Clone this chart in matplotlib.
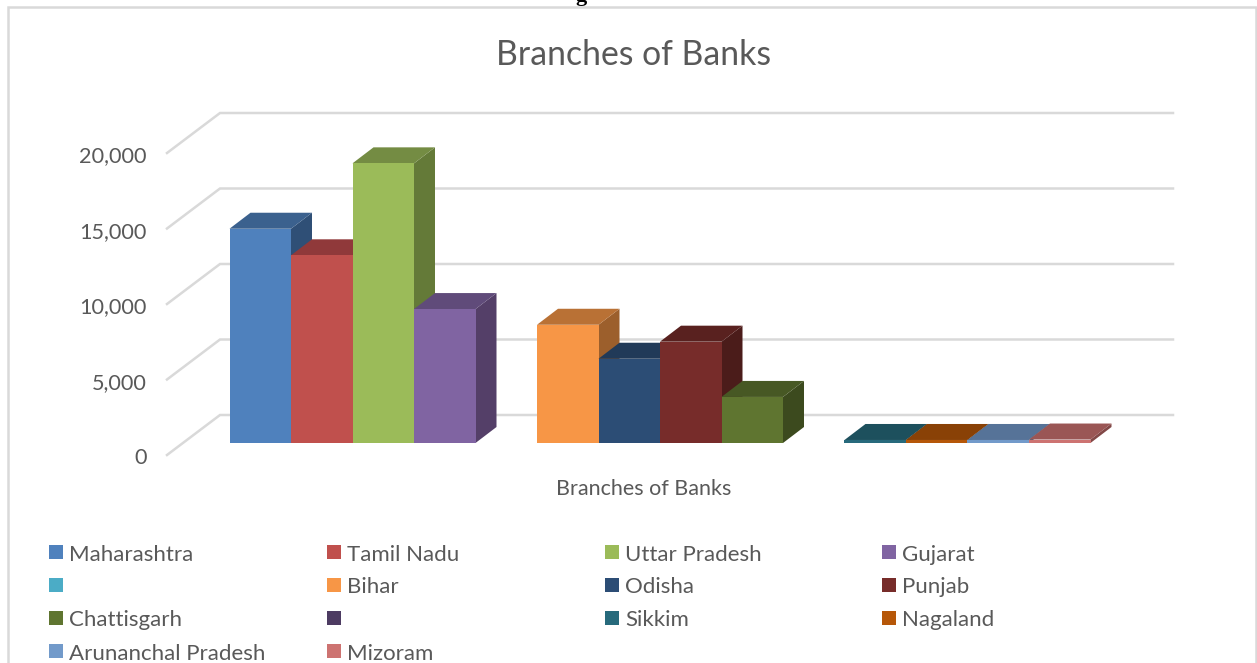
import matplotlib
matplotlib.use('Agg')
import matplotlib.pyplot as plt
from matplotlib.patches import Polygon, Rectangle

plt.rcParams['font.family'] = ['Lato', 'DejaVu Sans']

# branches per state, two blank series act as spacers between the groups
states = ['Maharashtra', 'Tamil Nadu', 'Uttar Pradesh', 'Gujarat', '', 'Bihar', 'Odisha',
          'Punjab', 'Chattisgarh', '', 'Sikkim', 'Nagaland', 'Arunanchal Pradesh', 'Mizoram']
branches = [14190, 12430, 18520, 8870, 0, 7830, 5580, 6710, 3050, 0, 200, 200, 200, 230]
front_colors = ['#4F81BD', '#C0504D', '#9BBB59', '#8064A2', '#4BACC6', '#F79646', '#2C4D75',
                '#772C2A', '#5F7530', '#4D3B62', '#276A7C', '#B65708', '#729ACA', '#CD7371']
top_colors = ['#3B618E', '#90393A', '#748C43', '#604B7A', '#387F95', '#B97135', '#213A58',
              '#59211F', '#475824', '#3A2C4A', '#1D505D', '#894106', '#567398', '#9A5655']
side_colors = ['#2F4F76', '#7A3030', '#647A38', '#543F68', '#2F6A7C', '#9C5F2C', '#1B3049',
               '#4B1C1A', '#3C4A1E', '#31253E', '#18424E', '#733605', '#486180', '#824847']
y_ticks = [0, 5000, 10000, 15000, 20000]

W, H = 1257, 663
px_per_value = 75.5 / 5000
slot_px = 61.5

fig = plt.figure(figsize=(W / 100, H / 100), dpi=100)
fig.patch.set_facecolor('white')

# axes box is the front plane of the 3d chart
left, right, bottom, top = 167, 1173, 455, 113
ax = fig.add_axes([left / W, 1 - bottom / H, (right - left) / W, (bottom - top) / H])
ax.set_xlim((left - 229.5) / slot_px, (right - 229.5) / slot_px)
ax.set_ylim(0, (bottom - top) / px_per_value)
ax.axis('off')

floor_dx = 53 / slot_px
floor_dy = 40 / px_per_value
bar_dx = 21 / slot_px
bar_dy = 16 / px_per_value
bar_base = 12 / px_per_value
x_min, x_max = ax.get_xlim()

# gridlines: slanted part on the side wall, flat part along the back wall
for t in y_ticks:
    ax.plot([x_min, x_min + floor_dx, x_max], [t, t + floor_dy, t + floor_dy],
            color='#D9D9D9', lw=1.8, clip_on=False, zorder=1, solid_joinstyle='miter')
    ax.annotate(f'{t:,}', xy=(x_min, t), xytext=(-20, -9.5), textcoords='offset pixels',
                ha='right', va='baseline', fontsize=15.6, color='#595959', annotation_clip=False)

# top and side faces are added as polygons, the front face is a normal bar
for i, (v, f, tc, sc) in enumerate(zip(branches, front_colors, top_colors, side_colors)):
    if v == 0:
        continue
    y0 = bar_base
    y1 = bar_base + v
    z = 5 + i
    ax.add_patch(Polygon([(i + 1, y0), (i + 1 + bar_dx, y0 + bar_dy),
                          (i + 1 + bar_dx, y1 + bar_dy), (i + 1, y1)],
                         fc=sc, ec='none', zorder=z))
    ax.add_patch(Polygon([(i, y1), (i + bar_dx, y1 + bar_dy),
                          (i + 1 + bar_dx, y1 + bar_dy), (i + 1, y1)],
                         fc=tc, ec='none', zorder=z))
    ax.bar(i, v, width=1, bottom=y0, align='edge', color=f, zorder=z + 0.5)

# ax.bar rescales, put the limits back
ax.set_xlim(x_min, x_max)
ax.set_ylim(0, (bottom - top) / px_per_value)

# chart frame, runs past the bottom edge
fig.add_artist(Rectangle((7.5 / W, -0.01), (1256 - 7.5) / W, 1.01 - 6.5 / H, fc='none',
                         ec='#D9D9D9', lw=1.8, transform=fig.transFigure))

fig.text(633.5 / W, 1 - 55 / H, 'Branches of Banks', ha='center', va='center',
         fontsize=24.3, color='#595959')
fig.text(644 / W, 1 - 489 / H, 'Branches of Banks', ha='center', va='center',
         fontsize=15.5, color='#595959')
# tail of a line of text sitting above the frame
fig.text(581 / W, 1 - 0.5 / H, 'g', ha='center', va='baseline', fontsize=16,
         color='black', family='Liberation Serif', weight='bold')

# legend is laid out by hand, four columns
col_x = [49, 327, 605, 882]
swatch_y = [552, 585, 618, 651]
text_y = [561, 593, 626, 660]
for i, (name, c) in enumerate(zip(states, front_colors)):
    r, k = divmod(i, 4)
    fig.add_artist(Rectangle((col_x[k] / W, 1 - (swatch_y[r] + 7) / H), 14 / W, 14 / H,
                             fc=c, ec='none', transform=fig.transFigure))
    fig.text((col_x[k] + 20) / W, 1 - text_y[r] / H, name, ha='left', va='baseline',
             fontsize=16, color='#595959')

fig.savefig('out.png', dpi=100)
